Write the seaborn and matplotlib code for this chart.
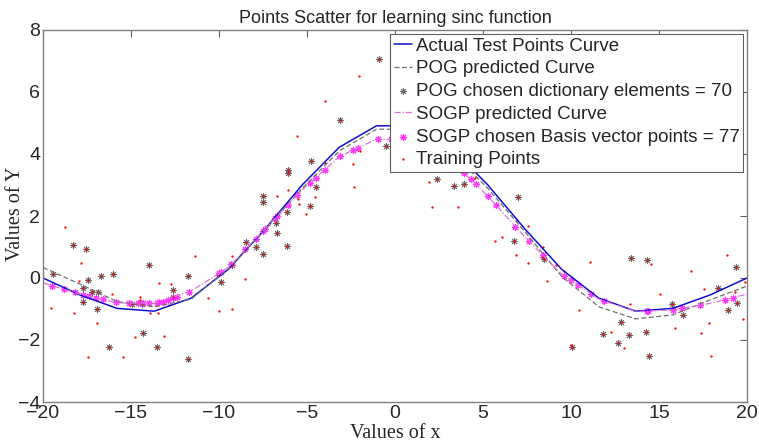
import matplotlib
matplotlib.use("Agg")
import matplotlib.pyplot as plt
import seaborn as sns
import numpy as np

# test points / fitted curves
test_x = [-20, -17.89, -15.79, -13.68, -11.58, -9.47, -7.37, -5.26, -3.16, -1.05,
          1.05, 3.16, 5.26, 7.37, 9.47, 11.58, 13.68, 15.79, 17.89, 20]
actual_y = [0.0, -0.55, -0.98, -1.07, -0.65, 0.28, 1.59, 3.01, 4.22, 4.91,
            4.91, 4.22, 3.01, 1.59, 0.28, -0.65, -1.07, -0.98, -0.55, 0.0]
pog_y = [0.34, -0.2, -0.76, -0.93, -0.68, 0.3, 1.55, 2.9, 4.1, 4.8,
         4.8, 4.1, 2.9, 1.5, 0.05, -0.93, -1.32, -1.19, -0.71, -0.26]
sogp_y = [-0.16, -0.52, -0.8, -0.82, -0.42, 0.34, 1.6, 2.85, 3.92, 4.48,
          4.45, 3.8, 2.65, 1.33, 0.12, -0.68, -1.08, -1.03, -0.82, -0.52]

# POG dictionary elements (70)
pog_px = [-19.41, -18.28, -17.56, -17.46, -17.75, -17.71, -17.2, -16.86, -16.95, -16.7,
          -16.0, -13.96, -14.96, -14.4, -14.3, -16.25, -13.5, -12.63, -12.6, -11.74,
          -11.74, -9.89, -9.28, -8.48, -7.9, -7.5, -6.12, -6.69, -6.76, -7.48,
          -7.48, -6.12, -4.83, -4.5, -6.06, -6.06, -4.76, -3.1, -0.91, -0.53,
          2.37, 3.35, 3.9, 7.01, 6.78, 8.43, 8.48, 10.04, 11.84, 12.82,
          12.65, 13.31, 13.39, 14.3, 14.26, 14.45, 15.72, 16.38, 18.37, 18.94,
          19.36, 19.41]
pog_py = [0.13, 1.06, 0.93, -0.06, -0.31, -0.78, -0.46, -0.46, -1.01, 0.07,
          0.13, 0.41, -0.84, -0.85, -1.78, -2.24, -2.22, -0.39, -0.6, 0.07,
          -2.62, -0.14, 0.42, 1.15, 1.01, 0.76, 1.03, 1.46, 1.78, 2.44,
          2.66, 2.14, 2.33, 2.93, 3.5, 3.4, 3.76, 5.09, 7.05, 4.26,
          3.19, 2.97, 3.02, 2.62, 1.2, 0.69, 0.6, -2.24, -1.81, -1.43,
          -2.11, -1.85, 0.65, 0.58, -1.75, -2.52, -0.84, -1.19, -0.33, -1.03,
          0.37, -0.82]

# SOGP basis vectors (77)
sogp_bx = [-19.5, -18.8, -18.2, -17.7, -17.4, -17.0, -16.6, -15.85, -15.1, -14.6,
           -14.3, -14.0, -13.5, -13.4, -13.2, -12.9, -12.6, -12.4, -11.7, -9.99,
           -9.9, -9.3, -8.5, -7.9, -7.5, -7.4, -6.8, -6.72, -6.1, -5.55,
           -4.83, -4.5, -4.0, -3.1, -2.4, -2.1, -0.95, -0.2, 0.0,
           3.92, 4.3, 4.58, 5.3, 5.75, 6.83, 7.6, 8.4, 9.6, 10.0,
           10.4, 11.15, 11.87, 14.3, 14.35, 15.8, 16.3, 17.35, 18.75, 19.2]
sogp_by = [-0.25, -0.36, -0.46, -0.55, -0.59, -0.64, -0.69, -0.78, -0.8, -0.81,
           -0.81, -0.82, -0.8, -0.79, -0.77, -0.72, -0.63, -0.6, -0.44, 0.15,
           0.18, 0.44, 0.93, 1.27, 1.52, 1.58, 1.94, 1.99, 2.35, 2.68,
           3.07, 3.24, 3.49, 3.93, 4.13, 4.2, 4.48, 4.47, 4.47,
           3.38, 3.18, 3.02, 2.63, 2.34, 1.66, 1.2, 0.74, 0.07, -0.08,
           -0.24, -0.52, -0.74, -1.07, -1.07, -1.03, -0.98, -0.87, -0.7, -0.63]

# training points not chosen by POG
red_x = [-18.75, -17.84, -17.94, -19.56, -18.24, -16.95, -16.1, -14.49, -14.5, -13.39,
         -13.92, -13.45, -12.73, -12.82, -11.36, -10.62, -10.02, -14.78, -13.12, -17.43,
         -15.44, -9.24, -9.24, -8.52, -10.13, -5.44, -5.07, -2.06, -0.21, -3.98,
         -5.57, 0.02, -2.0, -2.37, -2.31, -3.98, -4.53, -6.06, -6.72, -5.5,
         1.95, 2.08, 3.6, 4.55, 7.54, 6.92, 5.7, 6.1, 6.86, 7.58,
         8.39, 8.62, 9.13, 9.62, 11.08, 10.44, 9.98, 12.25, 13.03, 13.35,
         14.55, 15.06, 15.91, 16.82, 17.39, 17.56, 17.86, 17.95, 18.84, 19.32,
         19.75, 19.89]
red_y = [1.63, 0.49, -0.1, -0.96, -1.12, -1.44, -0.52, -0.6, -0.7, -0.17,
         -1.12, -1.14, -0.2, -0.87, 0.71, -0.64, -1.06, -1.91, -1.87, -2.54,
         -2.54, -1.01, 0.71, -0.02, 0.1, 2.39, 2.05, 6.53, 6.13, 5.71,
         4.59, 5.07, 4.1, 3.69, 2.94, 3.72, 2.62, 2.83, 2.65, 2.55,
         3.09, 2.28, 2.3, 3.23, 1.68, 1.87, 1.2, 1.31, 0.73, 0.49,
         1.01, -0.1, 0.42, 0.23, 0.51, -1.03, -2.16, -1.73, -2.25, -0.84,
         0.45, -0.52, -1.62, 0.24, -1.78, -0.36, -1.44, -2.52, 0.74, -0.46,
         -1.32, -0.12]

train_x = red_x + pog_px
train_y = red_y + pog_py

sns.set_style("white")
plt.rcParams['font.family'] = ['Liberation Sans', 'DejaVu Sans']

fig = plt.figure(figsize=(7.59, 4.44), dpi=100)
ax = fig.add_axes([43 / 759, 42 / 444, 704 / 759, 372 / 444])

aster = (8, 2, 0)
sns.lineplot(x=test_x, y=actual_y, sort=False, color='#1010d0', lw=1.1,
             label='Actual Test Points Curve', ax=ax)
sns.lineplot(x=test_x, y=pog_y, sort=False, color='#707070', lw=0.9,
             linestyle=(0, (4, 2)), label='POG predicted Curve', ax=ax)
sns.scatterplot(x=pog_px, y=pog_py, marker=aster, color='#6a6a6a', s=20,
                linewidth=0.7, label='POG chosen dictionary elements = 70', ax=ax)
sns.lineplot(x=test_x, y=sogp_y, sort=False, color='#e070e0', lw=0.9,
             linestyle=(0, (5, 1.5, 1, 1.5)), label='SOGP predicted Curve', ax=ax)
sns.scatterplot(x=sogp_bx, y=sogp_by, marker=aster, color='#ff30ff', s=20,
                linewidth=0.8, label='SOGP chosen Basis vector points = 77', ax=ax)
sns.scatterplot(x=train_x, y=train_y, marker='.', color='red', s=11,
                linewidth=0, label='Training Points', ax=ax)

ax.set_xlim(-20, 20)
ax.set_ylim(-4, 8)
ax.set_xticks(range(-20, 21, 5))
ax.set_yticks(range(-4, 9, 2))
ax.tick_params(direction='in', top=True, right=True, length=5, width=0.8,
               color='#606060', labelsize=14, pad=2)
for sp in ax.spines.values():
    sp.set_color('#808080')
    sp.set_linewidth(1.0)

ax.set_title('Points Scatter for learning sinc function', fontsize=13, pad=5)
ax.set_xlabel('Values of x', family=['Liberation Serif'], fontsize=14.5)
ax.set_ylabel('Values of Y', family=['Liberation Serif'], fontsize=14.5)
ax.xaxis.set_label_coords(0.5, -0.058)
ax.yaxis.set_label_coords(-0.026, 0.505)

leg = ax.legend(loc='upper right', fontsize=13.5, frameon=True, fancybox=False,
                framealpha=1, edgecolor='#606060', borderaxespad=0.2,
                handlelength=0.95, handletextpad=0.2, labelspacing=0.3,
                borderpad=0.2, markerscale=1.0)
leg.get_frame().set_linewidth(0.8)

fig.savefig('out.png', dpi=100)
